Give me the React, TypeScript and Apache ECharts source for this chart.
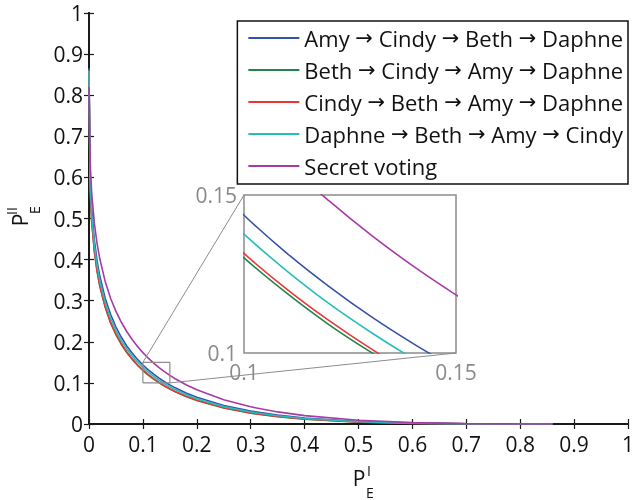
import React, { useEffect, useRef } from "react";
import * as echarts from "echarts";

// x positions of the sampled points (P_E^I)
const xs = [0, 0.002, 0.005, 0.01, 0.015, 0.02, 0.03, 0.04, 0.05, 0.06, 0.07, 0.08, 0.09, 0.1, 0.11, 0.12, 0.13, 0.14, 0.15, 0.16, 0.18, 0.2, 0.25, 0.3, 0.35, 0.4, 0.5, 0.6, 0.7, 0.8, 0.86];

const seriesNames = [
  "Amy \u2192 Cindy \u2192 Beth \u2192 Daphne",
  "Beth \u2192 Cindy \u2192 Amy \u2192 Daphne",
  "Cindy \u2192 Beth \u2192 Amy \u2192 Daphne",
  "Daphne \u2192 Beth \u2192 Amy \u2192 Cindy",
  "Secret voting",
];

const amyY = [0.866, 0.608, 0.523, 0.447, 0.397, 0.36, 0.306, 0.267, 0.236, 0.211, 0.19, 0.1725, 0.1571, 0.1436, 0.1317, 0.1211, 0.1115, 0.1029, 0.0951, 0.088, 0.0756, 0.0651, 0.0451, 0.0313, 0.0216, 0.0147, 0.0062, 0.0022, 0.0005, 0.0001, 0];
const bethY = [0.86, 0.573, 0.492, 0.418, 0.371, 0.335, 0.284, 0.246, 0.217, 0.1936, 0.174, 0.1573, 0.1428, 0.1301, 0.119, 0.109, 0.1002, 0.0921, 0.0848, 0.0782, 0.0667, 0.0571, 0.0389, 0.0264, 0.0178, 0.0117, 0.0046, 0.0014, 0.0002, 0, 0];
const cindyY = [0.86, 0.577, 0.495, 0.421, 0.373, 0.338, 0.286, 0.248, 0.219, 0.1953, 0.1756, 0.1588, 0.1442, 0.1315, 0.1203, 0.1103, 0.1013, 0.0932, 0.0859, 0.0792, 0.0677, 0.0579, 0.0395, 0.0269, 0.0181, 0.012, 0.0047, 0.0015, 0.0003, 0, 0];
const daphneY = [0.86, 0.592, 0.509, 0.434, 0.386, 0.349, 0.296, 0.258, 0.228, 0.203, 0.183, 0.1658, 0.1508, 0.1376, 0.1261, 0.1157, 0.1065, 0.0981, 0.0905, 0.0837, 0.0716, 0.0615, 0.0423, 0.0291, 0.0199, 0.0133, 0.0055, 0.0018, 0.0004, 0, 0];
const secretY = [0.82, 0.64, 0.561, 0.488, 0.439, 0.402, 0.347, 0.306, 0.274, 0.2475, 0.225, 0.2056, 0.1886, 0.1736, 0.1601, 0.1482, 0.1373, 0.1274, 0.1184, 0.1101, 0.0956, 0.0831, 0.0589, 0.0418, 0.0294, 0.0203, 0.009, 0.0033, 0.0008, 0.0001, 0];

const allY = [amyY, bethY, cindyY, daphneY, secretY];
const colors = ["#3452a8", "#23834a", "#ee3535", "#26bdbd", "#a83aa8"];

const mainRange = [0, 1];
const mainInterval = 0.1;
const zoomRange = [0.1, 0.15];
const zoomInterval = 0.05;

const FONT = "Open Sans";

export default function App() {
  const ref = useRef<HTMLDivElement>(null);

  useEffect(() => {
    const chart = echarts.init(ref.current!, null, { renderer: "svg" });

    const lineData = allY.map((ys) => xs.map((x, i) => [x, ys[i]]));

    const mainSeries = lineData.map((d, i) => ({
      name: seriesNames[i],
      type: "line",
      xAxisIndex: 0,
      yAxisIndex: 0,
      data: d,
      symbol: "none",
      showSymbol: false,
      smooth: false,
      lineStyle: { color: colors[i], width: 1.6 },
      itemStyle: { color: colors[i] },
      z: 3,
    }));
    const insetSeries = lineData.map((d, i) => ({
      name: seriesNames[i],
      type: "line",
      xAxisIndex: 2,
      yAxisIndex: 2,
      data: d,
      symbol: "none",
      showSymbol: false,
      smooth: 0.4,
      clip: true,
      lineStyle: { color: colors[i], width: 1.6 },
      itemStyle: { color: colors[i] },
      z: 3,
    }));

    const zr = zoomRange;
    const zoomBox = {
      type: "line",
      xAxisIndex: 0,
      yAxisIndex: 0,
      data: [
        [zr[0], zr[0]],
        [zr[1], zr[0]],
        [zr[1], zr[1]],
        [zr[0], zr[1]],
        [zr[0], zr[0]],
      ],
      symbol: "none",
      silent: true,
      lineStyle: { color: "#8c8c8c", width: 1.2 },
      z: 5,
    };

    const axisLineMain = { show: true, lineStyle: { color: "#1a1a1a", width: 2 } };
    const tickMain = { show: true, inside: true, length: 5, lineStyle: { color: "#1a1a1a", width: 1.2 } };
    const labelMain = { fontSize: 21, color: "#111", fontFamily: FONT };

    const option: any = {
      animation: false,
      textStyle: { fontFamily: FONT },
      grid: [
        { left: 89, top: 13, width: 547, height: 411, containLabel: false },
        {
          left: 244,
          top: 195,
          width: 212,
          height: 158,
          show: true,
          backgroundColor: "#fff",
          borderColor: "#8c8c8c",
          borderWidth: 1.5,
          z: 1,
        },
      ],
      xAxis: [
        {
          gridIndex: 0,
          type: "value",
          position: "bottom",
          min: mainRange[0],
          max: mainRange[1],
          interval: mainInterval,
          axisLine: axisLineMain,
          axisTick: tickMain,
          axisLabel: { ...labelMain, margin: 9 },
          splitLine: { show: false },
        },
        {
          gridIndex: 0,
          type: "value",
          position: "top",
          min: mainRange[0],
          max: mainRange[1],
          interval: mainInterval,
          axisLine: axisLineMain,
          axisTick: tickMain,
          axisLabel: { show: false },
          splitLine: { show: false },
        },
        {
          gridIndex: 1,
          type: "value",
          position: "bottom",
          min: zoomRange[0],
          max: zoomRange[1],
          interval: zoomInterval,
          axisLine: { show: false },
          axisTick: { show: false },
          axisLabel: { fontSize: 21, color: "#8a8a8a", fontFamily: FONT, margin: 8 },
          splitLine: { show: false },
        },
      ],
      yAxis: [
        {
          gridIndex: 0,
          type: "value",
          position: "left",
          min: mainRange[0],
          max: mainRange[1],
          interval: mainInterval,
          axisLine: axisLineMain,
          axisTick: tickMain,
          axisLabel: { ...labelMain, margin: 6 },
          splitLine: { show: false },
        },
        {
          gridIndex: 0,
          type: "value",
          position: "right",
          min: mainRange[0],
          max: mainRange[1],
          interval: mainInterval,
          axisLine: axisLineMain,
          axisTick: tickMain,
          axisLabel: { show: false },
          splitLine: { show: false },
        },
        {
          gridIndex: 1,
          type: "value",
          position: "left",
          min: zoomRange[0],
          max: zoomRange[1],
          interval: zoomInterval,
          axisLine: { show: false },
          axisTick: { show: false },
          axisLabel: { fontSize: 21, color: "#8a8a8a", fontFamily: FONT, margin: 7 },
          splitLine: { show: false },
        },
      ],
      legend: {
        orient: "vertical",
        right: 9,
        top: 21,
        icon: "rect",
        itemWidth: 51,
        itemHeight: 2,
        itemGap: 10,
        padding: [6, 5, 7, 11],
        borderColor: "#111",
        borderWidth: 1.5,
        borderRadius: 0,
        backgroundColor: "#fff",
        data: seriesNames,
        formatter: (name: string) => name.split("\u2192").join("{ar|\u2192}"),
        textStyle: {
          fontSize: 22,
          lineHeight: 21,
          color: "#111",
          fontFamily: FONT,
          rich: {
            ar: { fontFamily: "DejaVu Sans", fontSize: 21, color: "#111", lineHeight: 21 },
          },
        },
        z: 10,
      },
      series: [...mainSeries, ...insetSeries, zoomBox],
    };

    chart.setOption(option);

    const a = chart.convertToPixel({ gridIndex: 0 } as any, [zr[0], zr[1]]) as number[];
    const b = chart.convertToPixel({ gridIndex: 1 } as any, [zr[0], zr[1]]) as number[];
    const c = chart.convertToPixel({ gridIndex: 0 } as any, [zr[1], zr[0]]) as number[];
    const d = chart.convertToPixel({ gridIndex: 1 } as any, [zr[1], zr[0]]) as number[];

    const subStyle = { fontSize: 14, fontFamily: FONT, fill: "#111", align: "center", verticalAlign: "middle" };
    const mainStyle = { fontSize: 21, fontFamily: FONT, fill: "#111", align: "center", verticalAlign: "middle" };

    chart.setOption({
      graphic: [
        { type: "line", shape: { x1: a[0], y1: a[1], x2: b[0], y2: b[1] }, style: { stroke: "#8c8c8c", lineWidth: 1 }, z: 20, silent: true },
        { type: "line", shape: { x1: c[0], y1: c[1], x2: d[0], y2: d[1] }, style: { stroke: "#8c8c8c", lineWidth: 1 }, z: 20, silent: true },
        // x axis name: P_E^I
        { type: "text", x: 359, y: 478, style: { ...mainStyle, text: "P" }, z: 20 },
        { type: "text", x: 369, y: 470, style: { ...subStyle, text: "I" }, z: 20 },
        { type: "text", x: 370, y: 492, style: { ...subStyle, text: "E" }, z: 20 },
        // y axis name: P_E^II (rotated)
        {
          type: "group",
          x: 20,
          y: 220,
          rotation: Math.PI / 2,
          z: 20,
          children: [
            { type: "text", x: 0, y: 0, style: { ...mainStyle, text: "P" } },
            { type: "text", x: 9, y: -9, style: { ...subStyle, text: "II" } },
            { type: "text", x: 10, y: 14, style: { ...subStyle, text: "E" } },
          ],
        },
      ],
    });

    return () => chart.dispose();
  }, []);

  return <div ref={ref} style={{ position: "fixed", left: 0, top: 0, width: 637, height: 500 }} />;
}
